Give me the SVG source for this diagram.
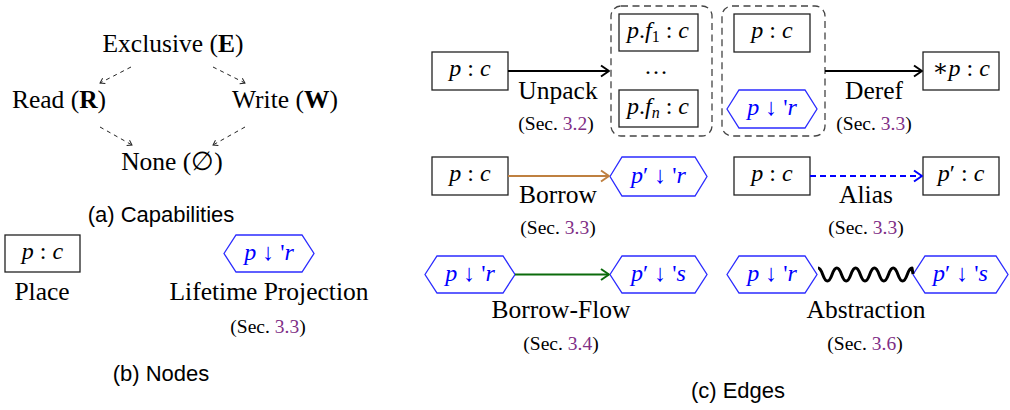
<svg xmlns="http://www.w3.org/2000/svg" width="1010" height="410" viewBox="0 0 1010 410">
<defs>
<style>
.t{font-family:"Liberation Serif","DejaVu Serif",serif;font-size:25.5px;fill:#000;text-anchor:middle}
.s{font-family:"Liberation Serif","DejaVu Serif",serif;font-size:19.5px;fill:#000;text-anchor:middle}
.h{font-family:"Liberation Sans","DejaVu Sans",sans-serif;font-size:22px;fill:#000;text-anchor:middle}
.m{font-family:"Liberation Serif","DejaVu Serif",serif;font-size:24px;fill:#000;text-anchor:middle}
.mb{font-family:"Liberation Serif","DejaVu Serif",serif;font-size:24px;fill:#0000ff;text-anchor:middle}
.i{font-style:italic}
.b{font-weight:bold}
.ln{fill:#7f2f86}
.box{fill:#fff;stroke:#222;stroke-width:1.3}
.hex{fill:#fff;stroke:#2b2bff;stroke-width:1.3}
.grp{fill:none;stroke:#444;stroke-width:1.3;stroke-dasharray:7 4.5}
.cap{stroke:#222;stroke-width:1;stroke-dasharray:4 4;fill:none}
</style>
<marker id="ak" markerUnits="userSpaceOnUse" markerWidth="14" markerHeight="14" refX="0" refY="0" viewBox="-10 -7 12 14" orient="auto" overflow="visible"><path d="M-8,-5.5 L0,0 L-8,5.5" fill="none" stroke="#000" stroke-width="2" stroke-linejoin="round"/></marker>
<marker id="abr" markerUnits="userSpaceOnUse" markerWidth="14" markerHeight="14" refX="0" refY="0" viewBox="-10 -7 12 14" orient="auto" overflow="visible"><path d="M-8,-5.5 L0,0 L-8,5.5" fill="none" stroke="#bf8040" stroke-width="2" stroke-linejoin="round"/></marker>
<marker id="abl" markerUnits="userSpaceOnUse" markerWidth="14" markerHeight="14" refX="0" refY="0" viewBox="-10 -7 12 14" orient="auto" overflow="visible"><path d="M-8,-5.5 L0,0 L-8,5.5" fill="none" stroke="#0000ff" stroke-width="2" stroke-linejoin="round"/></marker>
<marker id="agr" markerUnits="userSpaceOnUse" markerWidth="14" markerHeight="14" refX="0" refY="0" viewBox="-10 -7 12 14" orient="auto" overflow="visible"><path d="M-8,-5.5 L0,0 L-8,5.5" fill="none" stroke="#0b6b0b" stroke-width="2" stroke-linejoin="round"/></marker>
<marker id="asm" markerUnits="userSpaceOnUse" markerWidth="8" markerHeight="8" refX="0" refY="0" viewBox="-6 -4 7 8" orient="auto" overflow="visible"><path d="M-4.5,-3 L0,0 L-4.5,3" fill="none" stroke="#222" stroke-width="1"/></marker>
</defs>
<rect width="1010" height="410" fill="#fff"/>

<!-- (a) Capabilities -->
<g id="cap-E"><text class="t" x="173" y="52">Exclusive (<tspan class="b">E</tspan>)</text></g>
<g id="cap-R"><text class="t" x="59" y="108">Read (<tspan class="b">R</tspan>)</text></g>
<g id="cap-W"><text class="t" x="285" y="108">Write (<tspan class="b">W</tspan>)</text></g>
<g id="cap-N"><text class="t" x="172" y="170">None (∅)</text></g>
<g id="cap-edges">
<line class="cap" x1="131" y1="67" x2="100" y2="83" marker-end="url(#asm)"/>
<line class="cap" x1="213" y1="67" x2="245" y2="83" marker-end="url(#asm)"/>
<line class="cap" x1="100" y1="127" x2="132" y2="145" marker-end="url(#asm)"/>
<line class="cap" x1="245" y1="127" x2="213" y2="145" marker-end="url(#asm)"/>
</g>
<text class="h" x="161" y="222">(a) Capabilities</text>

<!-- (b) Nodes -->
<g id="node-place">
<rect class="box" x="5" y="235" width="75" height="37"/>
<text class="m" x="42.5" y="259"><tspan class="i">p</tspan> : <tspan class="i">c</tspan></text>
<text class="t" x="42" y="300">Place</text>
</g>
<g id="node-lifetime">
<polygon class="hex" points="224,253.5 236,235 302,235 314,253.5 302,272 236,272"/>
<text class="mb" x="269" y="260"><tspan class="i">p</tspan> ↓ '<tspan class="i">r</tspan></text>
<text class="t" x="269" y="300">Lifetime Projection</text>
<text class="s" x="268" y="333">(Sec. <tspan class="ln">3.3</tspan>)</text>
</g>
<text class="h" x="161" y="381">(b) Nodes</text>

<!-- (c) Edges -->
<g id="unpack-src">
<rect class="box" x="432" y="52" width="76" height="38"/>
<text class="m" x="470" y="76"><tspan class="i">p</tspan> : <tspan class="i">c</tspan></text>
</g>
<g id="unpack-group">
<rect class="grp" x="611" y="6" width="101" height="130" rx="10"/>
<rect class="box" x="619" y="14" width="79" height="37"/>
<text class="m" x="658" y="38"><tspan class="i">p</tspan>.<tspan class="i">f</tspan><tspan font-size="16" dy="4">1</tspan><tspan dy="-4"> : </tspan><tspan class="i">c</tspan></text>
<text class="m" x="656" y="74">…</text>
<rect class="box" x="619" y="90" width="79" height="37"/>
<text class="m" x="658" y="114"><tspan class="i">p</tspan>.<tspan class="i">f</tspan><tspan class="i" font-size="16" dy="4">n</tspan><tspan dy="-4"> : </tspan><tspan class="i">c</tspan></text>
</g>
<g id="deref-group">
<rect class="grp" x="722" y="6" width="103" height="130" rx="10"/>
<rect class="box" x="734" y="14" width="76" height="38"/>
<text class="m" x="772" y="38"><tspan class="i">p</tspan> : <tspan class="i">c</tspan></text>
<polygon class="hex" points="727,109 739,90 805,90 817,109 805,128 739,128"/>
<text class="mb" x="772" y="115"><tspan class="i">p</tspan> ↓ '<tspan class="i">r</tspan></text>
</g>
<g id="deref-dst">
<rect class="box" x="923" y="52" width="76" height="38"/>
<text class="m" x="961" y="76">∗<tspan class="i">p</tspan> : <tspan class="i">c</tspan></text>
</g>
<g id="borrow-src">
<rect class="box" x="432" y="157" width="76" height="38"/>
<text class="m" x="470" y="181"><tspan class="i">p</tspan> : <tspan class="i">c</tspan></text>
</g>
<g id="borrow-dst">
<polygon class="hex" points="610,176.5 622,157 695,157 707,176.5 695,196 622,196"/>
<text class="mb" x="658.5" y="183"><tspan class="i">p</tspan>′ ↓ '<tspan class="i">r</tspan></text>
</g>
<g id="alias-src">
<rect class="box" x="734" y="157" width="76" height="38"/>
<text class="m" x="772" y="181"><tspan class="i">p</tspan> : <tspan class="i">c</tspan></text>
</g>
<g id="alias-dst">
<rect class="box" x="923" y="157" width="76" height="38"/>
<text class="m" x="961" y="181"><tspan class="i">p</tspan>′ : <tspan class="i">c</tspan></text>
</g>
<g id="flow-src">
<polygon class="hex" points="425,274.5 437,256 503,256 515,274.5 503,293 437,293"/>
<text class="mb" x="470" y="281"><tspan class="i">p</tspan> ↓ '<tspan class="i">r</tspan></text>
</g>
<g id="flow-dst">
<polygon class="hex" points="610,274.5 622,256 695,256 707,274.5 695,293 622,293"/>
<text class="mb" x="658.5" y="281"><tspan class="i">p</tspan>′ ↓ '<tspan class="i">s</tspan></text>
</g>
<g id="abs-src">
<polygon class="hex" points="727,274.5 739,256 805,256 817,274.5 805,293 739,293"/>
<text class="mb" x="772" y="281"><tspan class="i">p</tspan> ↓ '<tspan class="i">r</tspan></text>
</g>
<g id="abs-dst">
<polygon class="hex" points="913,274.5 925,256 996,256 1008,274.5 996,293 925,293"/>
<text class="mb" x="960.5" y="281"><tspan class="i">p</tspan>′ ↓ '<tspan class="i">s</tspan></text>
</g>

<g id="connectors">
<line x1="508" y1="71" x2="609" y2="71" stroke="#000" stroke-width="2" marker-end="url(#ak)"/>
<line x1="825" y1="71" x2="922" y2="71" stroke="#000" stroke-width="2" marker-end="url(#ak)"/>
<line x1="508" y1="176" x2="609" y2="176" stroke="#bf8040" stroke-width="2" marker-end="url(#abr)"/>
<line x1="810" y1="176" x2="922" y2="176" stroke="#0000ff" stroke-width="2" stroke-dasharray="6 4" marker-end="url(#abl)"/>
<line x1="515" y1="274.5" x2="609" y2="274.5" stroke="#0b6b0b" stroke-width="2" marker-end="url(#agr)"/>
<path d="M818,268 C822.7,268 822.7,281 827.4,281 C832.1,281 832.1,268 836.8,268 C841.5,268 841.5,281 846.2,281 C850.9,281 850.9,268 855.6,268 C860.3,268 860.3,281 865,281 C869.7,281 869.7,268 874.4,268 C879.1,268 879.1,281 883.8,281 C888.5,281 888.5,268 893.2,268 C897.9,268 897.9,281 902.6,281 C907.3,281 907.3,268 912,268 L913,274" fill="none" stroke="#000" stroke-width="3" stroke-linejoin="round"/>
</g>

<g id="labels">
<text class="t" x="558" y="99">Unpack</text>
<text class="s" x="556" y="130">(Sec. <tspan class="ln">3.2</tspan>)</text>
<text class="t" x="874" y="99">Deref</text>
<text class="s" x="874" y="130">(Sec. <tspan class="ln">3.3</tspan>)</text>
<text class="t" x="558" y="203">Borrow</text>
<text class="s" x="558" y="234">(Sec. <tspan class="ln">3.3</tspan>)</text>
<text class="t" x="866" y="203">Alias</text>
<text class="s" x="866" y="234">(Sec. <tspan class="ln">3.3</tspan>)</text>
<text class="t" x="561" y="318">Borrow-Flow</text>
<text class="s" x="561" y="350">(Sec. <tspan class="ln">3.4</tspan>)</text>
<text class="t" x="866" y="318">Abstraction</text>
<text class="s" x="865" y="350">(Sec. <tspan class="ln">3.6</tspan>)</text>
</g>
<text class="h" x="738" y="398">(c) Edges</text>
</svg>
